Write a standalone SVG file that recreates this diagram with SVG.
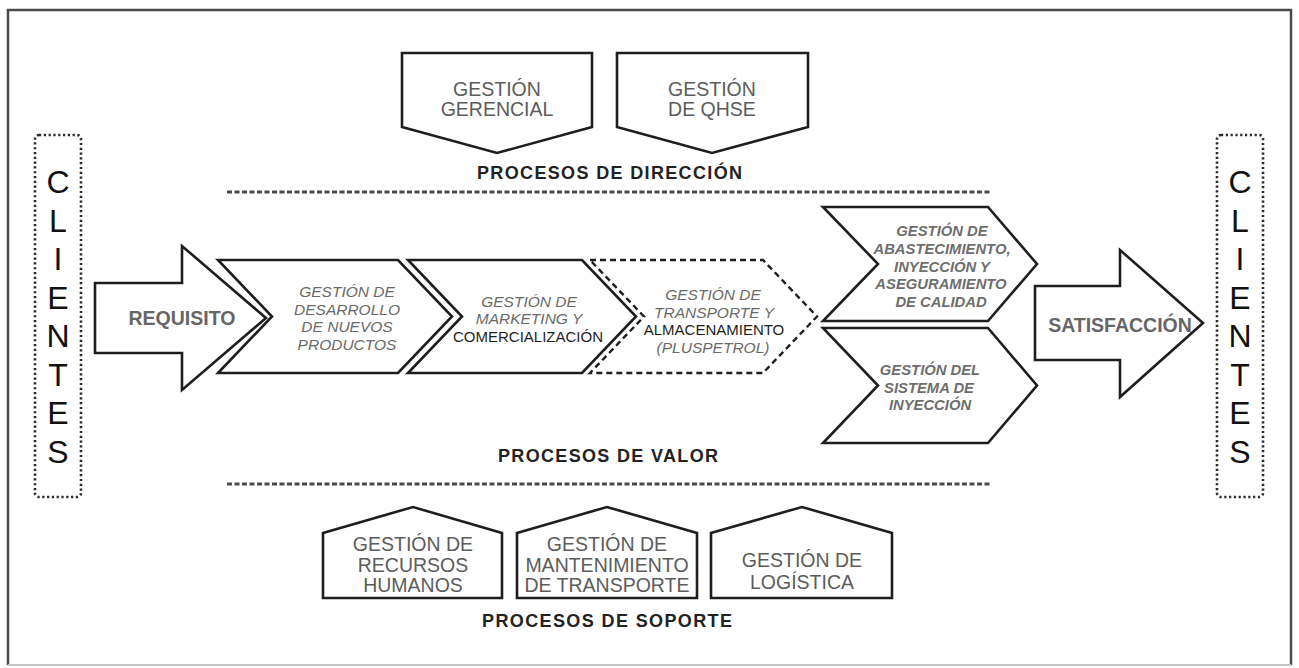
<svg xmlns="http://www.w3.org/2000/svg" width="1299" height="668" viewBox="0 0 1299 668">
  <style>
    .frame { fill: none; stroke: #4a4a4a; stroke-width: 2.5; }
    .shape { fill: #ffffff; stroke: #1e1e1e; stroke-width: 2.6; stroke-linejoin: miter; }
    .dashed { fill: #ffffff; stroke: #1e1e1e; stroke-width: 2.4; stroke-dasharray: 6 4; }
    .dotbox { fill: #ffffff; stroke: #2a2a2a; stroke-width: 2.6; stroke-dasharray: 2.2 2.6; }
    .sep { stroke: #4a4a4a; stroke-width: 3; stroke-dasharray: 5 2.5; }
    .box { font-family: "Liberation Sans", Arial, sans-serif; font-size: 19.5px; fill: #5c5c5c; text-anchor: middle; }
    .ital { font-family: "Liberation Sans", Arial, sans-serif; font-size: 15.5px; font-style: italic; fill: #6a6a6a; text-anchor: middle; }
    .dark { font-family: "Liberation Sans", Arial, sans-serif; font-size: 15px; fill: #1e1e1e; text-anchor: middle; }
    .bital { font-family: "Liberation Sans", Arial, sans-serif; font-size: 14.8px; font-style: italic; font-weight: bold; fill: #6e6e6e; text-anchor: middle; }
    .arrowtxt { font-family: "Liberation Sans", Arial, sans-serif; font-size: 19.5px; font-weight: bold; fill: #666666; text-anchor: middle; }
    .section { font-family: "Liberation Sans", Arial, sans-serif; font-size: 18px; font-weight: bold; fill: #222222; }
    .client { font-family: "Liberation Sans", Arial, sans-serif; font-size: 32px; fill: #111111; text-anchor: middle; }
  </style>

  <rect width="1299" height="668" fill="#ffffff"/>

  <!-- outer frame -->
  <path class="frame" d="M8,665 L8,10 L1291,10 L1291,665"/>
  <line x1="8" y1="665" x2="1291" y2="665" stroke="#c4c4c4" stroke-width="2"/>

  <!-- section separators -->
  <g id="separators">
    <line class="sep" x1="227" y1="192" x2="990" y2="192"/>
    <line class="sep" x1="227" y1="484" x2="990" y2="484"/>
  </g>

  <!-- customers, left and right -->
  <g id="clientes-izq">
    <rect class="dotbox" x="35" y="135" width="46" height="362" rx="4"/>
    <text class="client" x="58" y="193">C</text>
    <text class="client" x="58" y="231.5">L</text>
    <text class="client" x="58" y="270">I</text>
    <text class="client" x="58" y="308.5">E</text>
    <text class="client" x="58" y="347">N</text>
    <text class="client" x="58" y="385.5">T</text>
    <text class="client" x="58" y="424">E</text>
    <text class="client" x="58" y="462.5">S</text>
  </g>
  <g id="clientes-der">
    <rect class="dotbox" x="1217" y="135" width="46" height="362" rx="4"/>
    <text class="client" x="1240" y="193">C</text>
    <text class="client" x="1240" y="231.5">L</text>
    <text class="client" x="1240" y="270">I</text>
    <text class="client" x="1240" y="308.5">E</text>
    <text class="client" x="1240" y="347">N</text>
    <text class="client" x="1240" y="385.5">T</text>
    <text class="client" x="1240" y="424">E</text>
    <text class="client" x="1240" y="462.5">S</text>
  </g>

  <!-- management processes -->
  <g id="gestion-gerencial">
    <path class="shape" d="M402,53 L592,53 L592,127 L497,153 L402,127 Z"/>
    <text class="box" x="497" y="96">GESTIÓN</text>
    <text class="box" x="497" y="116">GERENCIAL</text>
  </g>
  <g id="gestion-qhse">
    <path class="shape" d="M617,53 L808,53 L808,127 L712,153 L617,127 Z"/>
    <text class="box" x="712" y="96">GESTIÓN</text>
    <text class="box" x="712" y="116">DE QHSE</text>
  </g>
  <text class="section" x="477" y="179" textLength="265" lengthAdjust="spacing">PROCESOS DE DIRECCIÓN</text>

  <!-- value chain -->
  <g id="requisito">
    <path class="shape" d="M95,283 L182,283 L182,246 L266,318 L182,390 L182,353 L95,353 Z"/>
    <text class="arrowtxt" x="182" y="325">REQUISITO</text>
  </g>
  <g id="desarrollo">
    <path class="shape" d="M218,260 L398,260 L452,316.5 L398,373 L218,373 L272,316.5 Z"/>
    <text class="ital" x="347" y="297">GESTIÓN DE</text>
    <text class="ital" x="347" y="314.5">DESARROLLO</text>
    <text class="ital" x="347" y="332">DE NUEVOS</text>
    <text class="ital" x="347" y="349.5">PRODUCTOS</text>
  </g>
  <g id="marketing">
    <path class="shape" d="M408,260 L582,260 L636,316.5 L582,373 L408,373 L462,316.5 Z"/>
    <text class="ital" x="529" y="307">GESTIÓN DE</text>
    <text class="ital" x="529" y="324">MARKETING Y</text>
    <text class="dark" x="528" y="342">COMERCIALIZACIÓN</text>
  </g>
  <g id="transporte">
    <path class="dashed" d="M590,260 L763,260 L817,316.5 L763,373 L590,373 L644,316.5 Z"/>
    <text class="ital" x="713" y="300">GESTIÓN DE</text>
    <text class="ital" x="714" y="317.5">TRANSPORTE Y</text>
    <text class="dark" x="714" y="335">ALMACENAMIENTO</text>
    <text class="ital" x="713" y="353">(PLUSPETROL)</text>
  </g>
  <g id="abastecimiento">
    <path class="shape" d="M823,207 L988,207 L1037,264 L988,321 L823,321 L878,264 Z"/>
    <text class="bital" x="942" y="236">GESTIÓN DE</text>
    <text class="bital" x="942" y="254">ABASTECIMIENTO,</text>
    <text class="bital" x="942" y="272">INYECCIÓN Y</text>
    <text class="bital" x="941" y="289">ASEGURAMIENTO</text>
    <text class="bital" x="941" y="307">DE CALIDAD</text>
  </g>
  <g id="sistema-inyeccion">
    <path class="shape" d="M823,328 L988,328 L1037,385.5 L988,443 L823,443 L878,385.5 Z"/>
    <text class="bital" x="930" y="375">GESTIÓN DEL</text>
    <text class="bital" x="929" y="393">SISTEMA DE</text>
    <text class="bital" x="930" y="410">INYECCIÓN</text>
  </g>
  <g id="satisfaccion">
    <path class="shape" d="M1035,286 L1120,286 L1120,250 L1203,323 L1120,397 L1120,360 L1035,360 Z"/>
    <text class="arrowtxt" x="1120" y="332">SATISFACCIÓN</text>
  </g>
  <text class="section" x="498" y="462" textLength="220" lengthAdjust="spacing">PROCESOS DE VALOR</text>

  <!-- support processes -->
  <g id="recursos-humanos">
    <path class="shape" d="M323,598 L323,533 L413,507 L502,533 L502,598 Z"/>
    <text class="box" x="413" y="551">GESTIÓN DE</text>
    <text class="box" x="413" y="572">RECURSOS</text>
    <text class="box" x="413" y="592">HUMANOS</text>
  </g>
  <g id="mantenimiento">
    <path class="shape" d="M517,598 L517,533 L607,507 L697,533 L697,598 Z"/>
    <text class="box" x="607" y="551">GESTIÓN DE</text>
    <text class="box" x="607" y="572">MANTENIMIENTO</text>
    <text class="box" x="607" y="592">DE TRANSPORTE</text>
  </g>
  <g id="logistica">
    <path class="shape" d="M711,598 L711,533 L802,507 L892,533 L892,598 Z"/>
    <text class="box" x="802" y="567">GESTIÓN DE</text>
    <text class="box" x="802" y="589">LOGÍSTICA</text>
  </g>
  <text class="section" x="482" y="627" textLength="250" lengthAdjust="spacing">PROCESOS DE SOPORTE</text>
</svg>
